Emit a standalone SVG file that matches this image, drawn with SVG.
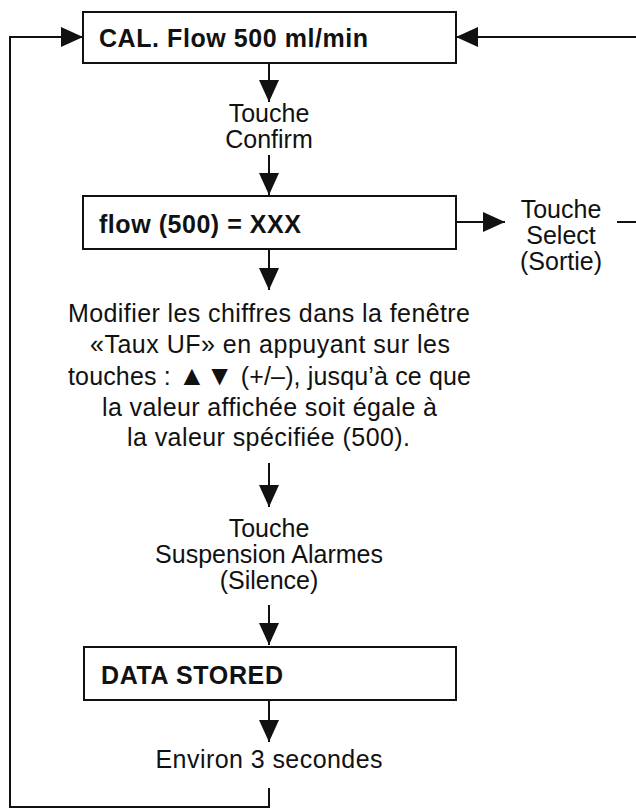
<svg xmlns="http://www.w3.org/2000/svg" width="636" height="808" viewBox="0 0 636 808">
<style>
  .box { fill: #fff; stroke: #111; stroke-width: 2; }
  .bt { font-family: "Liberation Sans", Arial, Helvetica, sans-serif; font-weight: bold; font-size: 25px; fill: #111; }
  .t { font-family: "Liberation Sans", Arial, Helvetica, sans-serif; font-size: 25px; fill: #111; text-anchor: middle; }
  .c { fill: none; stroke: #111; stroke-width: 2; }
  .ca { fill: none; stroke: #111; stroke-width: 2; marker-end: url(#ah); }
</style>
<defs>
  <marker id="ah" markerUnits="userSpaceOnUse" markerWidth="23" markerHeight="20" refX="22" refY="10" orient="auto">
    <path d="M0,0 L22,10 L0,20 Z" fill="#111"/>
  </marker>
</defs>
<rect width="636" height="808" fill="#fff"/>

<g id="connectors">
  <polyline class="ca" points="269,788 269,807 10,807 10,37 83,37"/>
  <line class="c" x1="617" y1="222" x2="636" y2="222"/>
  <line class="ca" x1="636" y1="37" x2="456" y2="37"/>
  <line class="ca" x1="269" y1="63" x2="269" y2="102"/>
  <line class="ca" x1="269" y1="155" x2="269" y2="195"/>
  <line class="ca" x1="456" y1="222" x2="505" y2="222"/>
  <line class="ca" x1="269" y1="249" x2="269" y2="290"/>
  <line class="ca" x1="269" y1="463" x2="269" y2="507"/>
  <line class="ca" x1="269" y1="605" x2="269" y2="645"/>
  <line class="ca" x1="269" y1="700" x2="269" y2="742"/>
</g>

<g id="node-cal">
  <rect class="box" x="83" y="12" width="373" height="51"/>
  <text class="bt" x="99" y="47" textLength="269">CAL. Flow 500 ml/min</text>
</g>

<g id="label-confirm">
  <text class="t"><tspan x="269" y="122">Touche</tspan><tspan x="269" y="148">Confirm</tspan></text>
</g>

<g id="node-flow">
  <rect class="box" x="83" y="196" width="373" height="53"/>
  <text class="bt" x="99" y="233" textLength="202">flow (500) = XXX</text>
</g>

<g id="label-select">
  <text class="t"><tspan x="561" y="218">Touche</tspan><tspan x="561" y="244">Select</tspan><tspan x="561" y="270">(Sortie)</tspan></text>
</g>

<g id="label-modify">
  <text class="t" x="269" y="322" textLength="402">Modifier les chiffres dans la fenêtre</text>
  <text class="t" x="270" y="353" textLength="360">«Taux UF» en appuyant sur les</text>
  <text class="t" x="269.5" y="385" textLength="403">touches : <tspan font-size="28">▲▼</tspan> (+/–), jusqu’à ce que</text>
  <text class="t" x="269.5" y="416" textLength="335">la valeur affichée soit égale à</text>
  <text class="t" x="268.5" y="446" textLength="283">la valeur spécifiée (500).</text>
</g>

<g id="label-silence">
  <text class="t"><tspan x="269" y="537">Touche</tspan><tspan x="269" y="563">Suspension Alarmes</tspan><tspan x="269" y="589">(Silence)</tspan></text>
</g>

<g id="node-stored">
  <rect class="box" x="84" y="647" width="372" height="53"/>
  <text class="bt" x="101" y="684" textLength="182">DATA STORED</text>
</g>

<g id="label-wait">
  <text class="t" x="269" y="768" textLength="227">Environ 3 secondes</text>
</g>
</svg>
